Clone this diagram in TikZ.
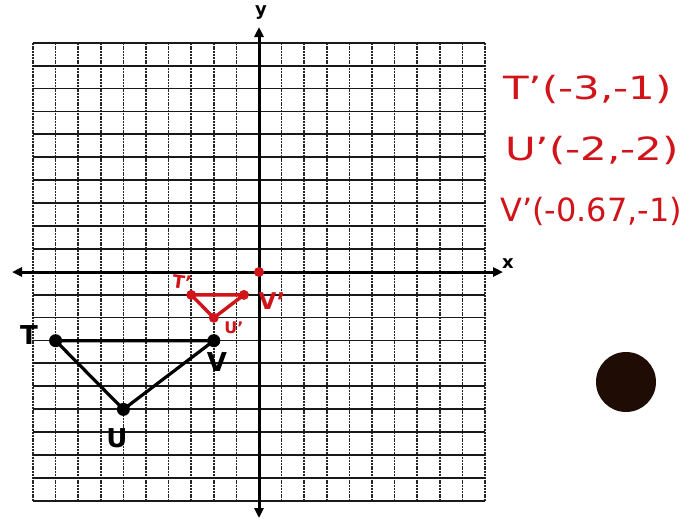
\documentclass[tikz,border=0pt]{standalone}
\usepackage{fontspec}
\setmainfont{DejaVu Sans}
\usetikzlibrary{arrows.meta}
\definecolor{pen}{HTML}{D0141A}
\definecolor{blob}{HTML}{1E0C05}
\begin{document}
\begin{tikzpicture}[x=1pt,y=-1pt,
  gridv/.style={line width=1.6pt, dash pattern=on 2pt off 0.8pt, black!85},
  gridh/.style={line width=1.8pt, black!90},
  axisline/.style={line width=3pt, {Triangle[length=10pt,width=9pt]}-{Triangle[length=10pt,width=9pt]}},
  bdot/.style={circle, fill=black, inner sep=0pt, minimum size=13pt},
  rdot/.style={circle, fill=pen, inner sep=0pt, minimum size=10pt},
  bedge/.style={line width=3.2pt, black},
  redge/.style={line width=3.4pt, pen},
  blab/.style={font=\bfseries\fontsize{26}{26}\selectfont, inner sep=0pt},
  axlab/.style={font=\bfseries\fontsize{18}{18}\selectfont, inner sep=0pt},
  rlab/.style={text=pen, font=\fontsize{32}{32}\selectfont, inner sep=0pt, anchor=west},
  rsmall/.style={text=pen, font=\bfseries\fontsize{#1}{#1}\selectfont, inner sep=0pt}]
\useasboundingbox (0,0) rectangle (691,520);
\fill[white] (0,0) rectangle (691,520);
% grid
\foreach \i in {0,...,20} \draw[gridv] ({33+22.6*\i},42.7) -- ({33+22.6*\i},501);
\foreach \j in {0,...,20} \draw[gridh] (33,{42.7+22.9*\j}) -- (485,{42.7+22.9*\j});
% axes
\coordinate (xl) at (12,272);
\coordinate (xr) at (503,272);
\coordinate (yt) at (259,27);
\coordinate (yb) at (259,518);
\draw[axisline] (xl) -- (xr);
\draw[axisline] (yb) -- (yt);
\node[axlab] (xlab) at (508,264) {x};
\node[axlab] (ylab) at (261,13) {y};
% original triangle
\node[bdot] (T) at (55.6,340.7) {};
\node[bdot] (U) at (123.4,409.4) {};
\node[bdot] (V) at (213.8,340.7) {};
\draw[bedge] (T.center) -- (V.center) -- (U.center) -- cycle;
\node[blab] (Tl) at (29,335) {T};
\node[blab] (Ul) at (117,438) {U};
\node[blab] (Vl) at (217,362) {V};
% image triangle
\node[rdot] (O) at (259,272) {};
\node[rdot] (Tp) at (191.2,294.9) {};
\node[rdot] (Up) at (213.8,317.8) {};
\node[rdot] (Vp) at (243.9,294.9) {};
\draw[redge] (Tp.center) -- (Vp.center) -- (Up.center) -- cycle;
\node[rsmall=18, rotate=-8] (Tpl) at (182,282) {T'};
\node[rsmall=23] (Vpl) at (272,301) {V'};
\node[rsmall=16] (Upl) at (234,328) {U'};
% coordinate list
\node[rlab, xscale=1.31] (L1) at (503,89) {T'(-3,-1)};
\node[rlab, xscale=1.31] (L2) at (505,150) {U'(-2,-2)};
\node[rlab, xscale=1.0] (L3) at (500,211) {V'(-0.67,-1)};
% dark dot
\fill[blob] (626,382) circle (30);
\end{tikzpicture}
\end{document}
